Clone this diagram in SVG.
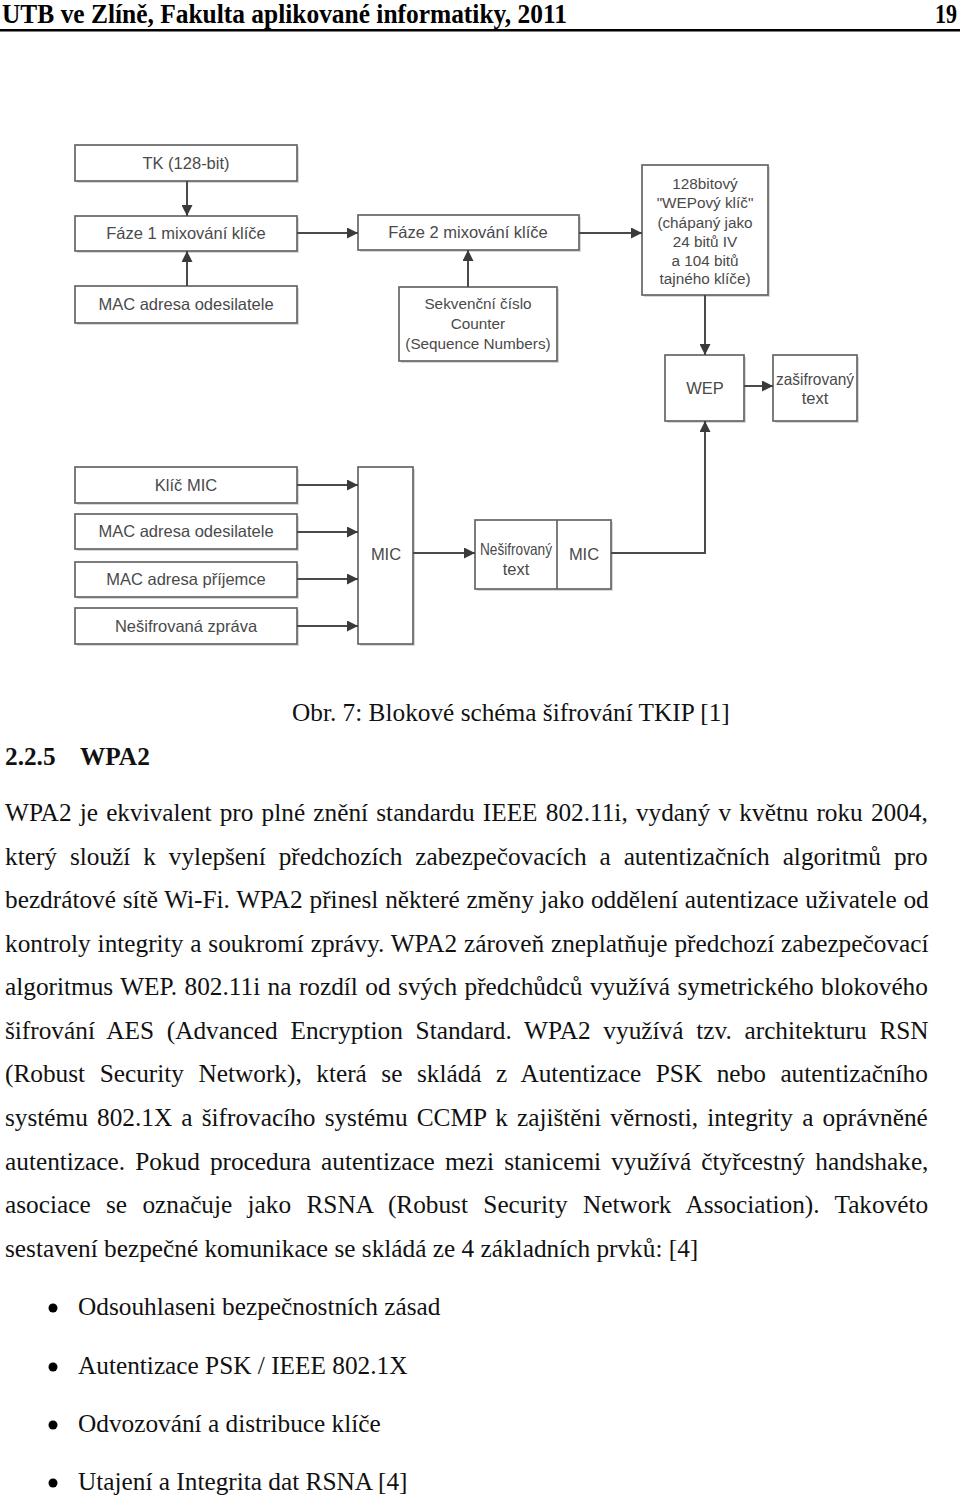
<svg xmlns="http://www.w3.org/2000/svg" width="960" height="1499" viewBox="0 0 960 1499">
<style>
.box{fill:#fff;stroke:#666;stroke-width:1.7}
.sh{fill:#d8d8d8}
.lbl{font-family:"Liberation Sans",Arial,sans-serif;font-size:16.5px;fill:#4a4a4a;text-anchor:middle;dominant-baseline:central}
.sm{font-size:15.3px}
.con{fill:none;stroke:#4a4a4a;stroke-width:2}
.body{font-family:"Liberation Serif","Times New Roman",serif;font-size:25.3px;fill:#111}
.bold{font-weight:bold}
</style>
<defs>
<marker id="ah" viewBox="0 0 10 10" refX="10" refY="5" markerWidth="11" markerHeight="11" markerUnits="userSpaceOnUse" orient="auto">
<path d="M0,0 L10,5 L0,10 z" fill="#3a3a3a"/>
</marker>
</defs>
<rect width="960" height="1499" fill="#fff"/>

<g id="header">
<text x="2" y="23" font-family="Liberation Serif,serif" font-weight="bold" font-size="27px" textLength="565" lengthAdjust="spacingAndGlyphs" fill="#000">UTB ve Zlíně, Fakulta aplikované informatiky, 2011</text>
<text x="957" y="23" font-family="Liberation Serif,serif" font-weight="bold" font-size="27px" text-anchor="end" textLength="22" lengthAdjust="spacingAndGlyphs" fill="#000">19</text>
<rect x="0" y="29" width="960" height="2.5" fill="#000"/>
</g>

<g id="n-tk"><rect class="sh" x="77" y="147" width="222" height="36"/><rect class="box" x="75" y="145" width="222" height="36"/><text class="lbl" x="186" y="163">TK (128-bit)</text></g>
<g id="n-faze1"><rect class="sh" x="77" y="218" width="222" height="35"/><rect class="box" x="75" y="216" width="222" height="35"/><text class="lbl" x="186" y="233">Fáze 1 mixování klíče</text></g>
<g id="n-mac1"><rect class="sh" x="77" y="288" width="222" height="37"/><rect class="box" x="75" y="286" width="222" height="37"/><text class="lbl" x="186" y="304">MAC adresa odesilatele</text></g>
<g id="n-faze2"><rect class="sh" x="360" y="217" width="221" height="35"/><rect class="box" x="358" y="215" width="221" height="35"/><text class="lbl" x="468" y="232">Fáze 2 mixování klíče</text></g>
<g id="n-seq"><rect class="sh" x="401" y="289" width="158" height="74"/><rect class="box" x="399" y="287" width="158" height="74"/>
<text class="lbl sm" x="478" y="303">Sekvenční číslo</text><text class="lbl sm" x="478" y="323">Counter</text><text class="lbl sm" x="478" y="343">(Sequence Numbers)</text></g>
<g id="n-wepkey"><rect class="sh" x="644" y="167" width="126" height="130"/><rect class="box" x="642" y="165" width="126" height="130"/>
<text class="lbl sm" x="705" y="183">128bitový</text>
<text class="lbl sm" x="705" y="202">"WEPový klíč"</text>
<text class="lbl sm" x="705" y="222">(chápaný jako</text>
<text class="lbl sm" x="705" y="241">24 bitů IV</text>
<text class="lbl sm" x="705" y="260">a 104 bitů</text>
<text class="lbl sm" x="705" y="278">tajného klíče)</text></g>
<g id="n-wep"><rect class="sh" x="667" y="357" width="79" height="66"/><rect class="box" x="665" y="355" width="79" height="66"/><text class="lbl" x="705" y="388">WEP</text></g>
<g id="n-zas"><rect class="sh" x="775" y="357" width="84" height="66"/><rect class="box" x="773" y="355" width="84" height="66"/>
<text class="lbl" x="815" y="379" font-size="14.2px" textLength="78" lengthAdjust="spacingAndGlyphs">zašifrovaný</text><text class="lbl" x="815" y="398" font-size="14.2px">text</text></g>
<g id="n-klic"><rect class="sh" x="77" y="469" width="222" height="36"/><rect class="box" x="75" y="467" width="222" height="36"/><text class="lbl" x="186" y="485">Klíč MIC</text></g>
<g id="n-mac2"><rect class="sh" x="77" y="516" width="222" height="35"/><rect class="box" x="75" y="514" width="222" height="35"/><text class="lbl" x="186" y="531">MAC adresa odesilatele</text></g>
<g id="n-mac3"><rect class="sh" x="77" y="564" width="222" height="35"/><rect class="box" x="75" y="562" width="222" height="35"/><text class="lbl" x="186" y="579">MAC adresa příjemce</text></g>
<g id="n-nezpr"><rect class="sh" x="77" y="610" width="222" height="36"/><rect class="box" x="75" y="608" width="222" height="36"/><text class="lbl" x="186" y="626">Nešifrovaná zpráva</text></g>
<g id="n-mic"><rect class="sh" x="360" y="469" width="55" height="177"/><rect class="box" x="358" y="467" width="55" height="177"/><text class="lbl" x="386" y="554">MIC</text></g>
<g id="n-nemic"><rect class="sh" x="477" y="522" width="136" height="69"/><rect class="box" x="475" y="520" width="136" height="69"/>
<line x1="557" y1="520" x2="557" y2="589" stroke="#666" stroke-width="1.7"/>
<text class="lbl" x="516" y="549" font-size="12.5px" textLength="72" lengthAdjust="spacingAndGlyphs">Nešifrovaný</text><text class="lbl" x="516" y="569" font-size="12.5px">text</text>
<text class="lbl" x="584" y="554">MIC</text></g>

<g id="connectors">
<line class="con" x1="187" y1="181" x2="187" y2="216" marker-end="url(#ah)"/>
<line class="con" x1="187" y1="286" x2="187" y2="251" marker-end="url(#ah)"/>
<line class="con" x1="297" y1="233" x2="358" y2="233" marker-end="url(#ah)"/>
<line class="con" x1="468" y1="287" x2="468" y2="250" marker-end="url(#ah)"/>
<line class="con" x1="579" y1="233" x2="642" y2="233" marker-end="url(#ah)"/>
<line class="con" x1="705" y1="295" x2="705" y2="355" marker-end="url(#ah)"/>
<line class="con" x1="744" y1="386" x2="773" y2="386" marker-end="url(#ah)"/>
<line class="con" x1="297" y1="485" x2="358" y2="485" marker-end="url(#ah)"/>
<line class="con" x1="297" y1="532" x2="358" y2="532" marker-end="url(#ah)"/>
<line class="con" x1="297" y1="579" x2="358" y2="579" marker-end="url(#ah)"/>
<line class="con" x1="297" y1="626" x2="358" y2="626" marker-end="url(#ah)"/>
<line class="con" x1="413" y1="553" x2="475" y2="553" marker-end="url(#ah)"/>
<polyline class="con" points="611,553 705,553 705,421" marker-end="url(#ah)"/>
</g>

<g id="caption"><text class="body" x="292" y="721">Obr. 7: Blokové schéma šifrování TKIP [1]</text></g>
<g id="heading"><text class="body bold" x="5" y="765">2.2.5</text><text class="body bold" x="80" y="765">WPA2</text></g>
<g id="paragraph">
<text class="body" x="5" y="821" word-spacing="1.85">WPA2 je ekvivalent pro plné znění standardu IEEE 802.11i, vydaný v květnu roku 2004,</text>
<text class="body" x="5" y="865" word-spacing="6.6">který slouží k vylepšení předchozích zabezpečovacích a autentizačních algoritmů pro</text>
<text class="body" x="5" y="908" word-spacing="0.45">bezdrátové sítě Wi-Fi. WPA2 přinesl některé změny jako oddělení autentizace uživatele od</text>
<text class="body" x="5" y="952" word-spacing="0.55">kontroly integrity a soukromí zprávy. WPA2 zároveň zneplatňuje předchozí zabezpečovací</text>
<text class="body" x="5" y="995" word-spacing="1.1">algoritmus WEP. 802.11i na rozdíl od svých předchůdců využívá symetrického blokového</text>
<text class="body" x="5" y="1039" word-spacing="6.4">šifrování AES (Advanced Encryption Standard. WPA2 využívá tzv. architekturu RSN</text>
<text class="body" x="5" y="1082" word-spacing="8.2">(Robust Security Network), která se skládá z Autentizace PSK nebo autentizačního</text>
<text class="body" x="5" y="1126" word-spacing="2.8">systému 802.1X a šifrovacího systému CCMP k zajištěni věrnosti, integrity a oprávněné</text>
<text class="body" x="5" y="1170" word-spacing="3.75">autentizace. Pokud procedura autentizace mezi stanicemi využívá čtyřcestný handshake,</text>
<text class="body" x="5" y="1213" word-spacing="9">asociace se označuje jako RSNA (Robust Security Network Association). Takovéto</text>
<text class="body" x="5" y="1257">sestavení bezpečné komunikace se skládá ze 4 základních prvků: [4]</text>
</g>
<g id="bullets">
<circle cx="53" cy="1308" r="4.5" fill="#000"/><text class="body" x="78" y="1315">Odsouhlaseni bezpečnostních zásad</text>
<circle cx="53" cy="1367" r="4.5" fill="#000"/><text class="body" x="78" y="1374">Autentizace PSK / IEEE 802.1X</text>
<circle cx="53" cy="1425" r="4.5" fill="#000"/><text class="body" x="78" y="1432">Odvozování a distribuce klíče</text>
<circle cx="53" cy="1483" r="4.5" fill="#000"/><text class="body" x="78" y="1490">Utajení a Integrita dat RSNA [4]</text>
</g>
</svg>
